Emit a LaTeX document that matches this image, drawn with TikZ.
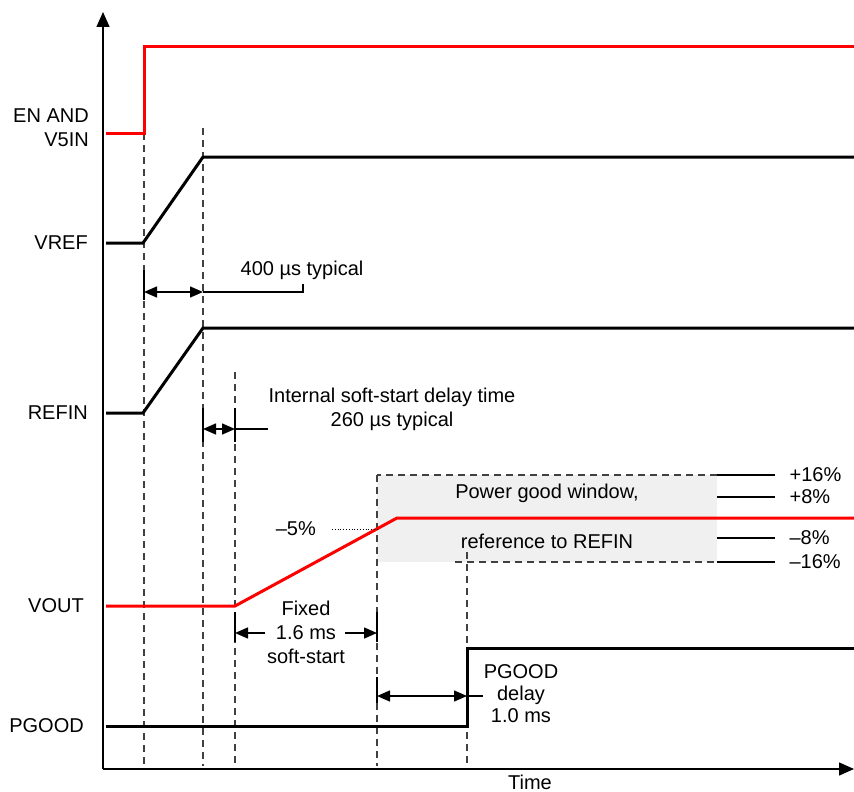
\documentclass[tikz,border=0pt]{standalone}
\usepackage{fontspec}
\setmainfont{Liberation Sans}
\usetikzlibrary{arrows.meta}

\begin{document}
\begin{tikzpicture}[x=1pt, y=-1pt, font=\fontsize{20}{24}\selectfont,
  sig/.style = {line width=3pt},
  redsig/.style = {line width=3pt, red},
  guide/.style = {line width=1.1pt, dash pattern=on 7pt off 5pt, black!75},
  axis/.style = {line width=1.4pt, -{Triangle[length=15pt,width=13pt]}},
  dim/.style = {line width=1.5pt, {Triangle[length=13pt,width=11pt]}-{Triangle[length=13pt,width=11pt]}},
  endmark/.style = {line width=2pt},
  lbl/.style = {anchor=east, align=right, inner sep=0pt},
  pct/.style = {anchor=west, inner sep=0pt}]
\useasboundingbox (0,0) rectangle (854,792);

% power good window
\fill[black!6] (377,475) rectangle (717,562);
\draw[guide] (717,475) -- (377,475);
\draw[guide] (455,562) -- (717,562);
\foreach \y/\t in {475/+16\%, 497/+8\%, 538/--8\%, 562/--16\%}
  \draw[line width=1.2pt] (717,\y) -- (775,\y) node[pct, xshift=14pt] {\t};
\node (pgw1) at (547,493) {Power good window,};
\node (pgw2) at (547,541) {reference to REFIN};

% time guides
\draw[guide] (144,133) -- (144,766);
\draw[guide] (203,128) -- (203,766);
\draw[guide] (235,372) -- (235,766);
\draw[guide] (377,475) -- (377,766);
\draw[guide] (467,552) -- (467,766);

% axes
\coordinate (org) at (103,769);
\draw[axis] (org) -- (103,12);
\draw[axis] (org) -- (854,769);
\node[inner sep=0pt] (time) at (530,782) {Time};

% signal labels
\node[lbl] (en) at (89,128) {EN AND\\V5IN};
\node[lbl] (vref) at (88,243) {VREF};
\node[lbl] (refin) at (88,413) {REFIN};
\node[lbl] (vout) at (84,606) {VOUT};
\node[lbl] (pgood) at (84,726) {PGOOD};

% waveforms
\draw[redsig] (106,133) -- (144,133) -- (144,47) -- (854,47);
\draw[sig] (106,243) -- (143,243) -- (203,157) -- (854,157);
\draw[sig] (106,413) -- (143,413) -- (203,328) -- (854,328);
\draw[redsig] (106,606) -- (235,606) -- (397,518) -- (854,518);
\draw[sig] (106,726) -- (467,726) -- (467,648) -- (854,648);

% 400 us
\draw[endmark] (144,270) -- (144,300);
\coordinate (a1) at (144,292);
\coordinate (a2) at (203,292);
\draw[dim] (a1) -- (a2);
\draw[line width=1.5pt] (a2) -- (303,292) -- (303,284);
\node (t400) at (302,270) {400 µs typical};

% 260 us
\draw[endmark] (203,408) -- (203,442);
\draw[endmark] (235,408) -- (235,442);
\coordinate (b1) at (203,429);
\coordinate (b2) at (235,429);
\draw[dim] (b1) -- (b2);
\draw[line width=1.5pt] (b2) -- (268,429);
\node[align=center] (t260) at (392,409) {Internal soft-start delay time\\260 µs typical};

% -5 %
\node[anchor=east, inner sep=0pt] (m5) at (316,529) {--5\%};
\draw[dotted, line width=0.8pt] (332,529) -- (377,529);

% soft-start
\draw[endmark] (235,612) -- (235,642);
\draw[endmark] (377,612) -- (377,642);
\node[align=center] (ss) at (306,632) {Fixed\\1.6 ms\\soft-start};
\coordinate (c1) at (235,633);
\coordinate (c2) at (377,633);
\draw[line width=1.5pt, -{Triangle[length=13pt,width=11pt]}] (265,633) -- (c1);
\draw[line width=1.5pt, -{Triangle[length=13pt,width=11pt]}] (345,633) -- (c2);

% pgood delay
\draw[endmark] (377,677) -- (377,703);
\coordinate (d1) at (377,696);
\coordinate (d2) at (467,696);
\draw[dim] (d1) -- (d2);
\draw[line width=1.5pt] (d2) -- (483,696);
\node[align=center, font=\fontsize{20}{22}\selectfont] (pgd) at (521,694) {PGOOD\\delay\\1.0 ms};
\end{tikzpicture}
\end{document}
